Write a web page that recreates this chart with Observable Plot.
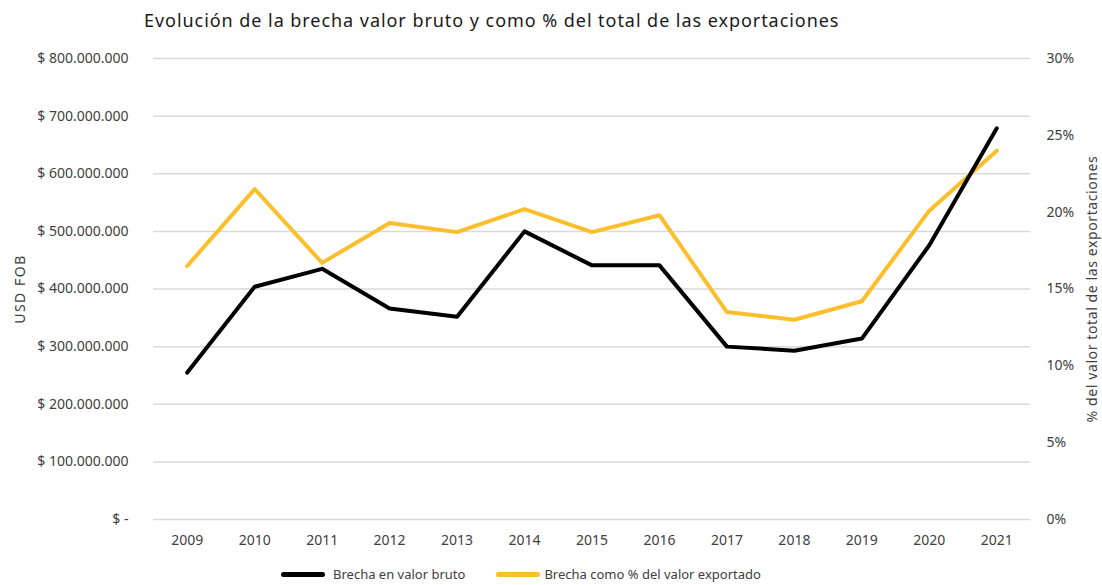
<!DOCTYPE html>
<html>
<head>
<meta charset="utf-8">
<script src="https://cdn.jsdelivr.net/npm/d3@7"></script>
<script src="https://cdn.jsdelivr.net/npm/@observablehq/plot@0.6"></script>
<style>
  body { margin: 0; background: #fff; font-family: "Noto Sans", sans-serif; }
  #title { height: 40px; box-sizing: border-box; padding: 8px 0 0 144px; font-size: 18px; letter-spacing: 0.95px; color: #1a1a1a; }
  #legend { display: flex; justify-content: flex-start; align-items: center; height: 26px; font-size: 13px; color: #404040; padding-left: 281px; padding-top: 4px; box-sizing: border-box; }
  .item { display: flex; align-items: center; }
  .sw { display: inline-block; width: 44px; height: 5px; border-radius: 3px; margin-right: 8px; }
</style>
</head>
<body>
<div id="title">Evolución de la brecha valor bruto y como % del total de las exportaciones</div>
<div id="chart"></div>
<div id="legend"></div>
<script>
const years = ["2009","2010","2011","2012","2013","2014","2015","2016","2017","2018","2019","2020","2021"];
const valorBruto = [255e6, 404e6, 435e6, 366e6, 352e6, 500e6, 441e6, 441e6, 300e6, 293e6, 314e6, 476e6, 679e6];
const pctExportado = [16.5, 21.5, 16.7, 19.3, 18.7, 20.2, 18.7, 19.8, 13.5, 13.0, 14.2, 20.1, 24.0];
const leftTicks = [0, 1e8, 2e8, 3e8, 4e8, 5e8, 6e8, 7e8, 8e8];
const rightTicks = [0, 5, 10, 15, 20, 25, 30];
const seriesNames = ["Brecha en valor bruto", "Brecha como % del valor exportado"];
const seriesColors = ["#000000", "#FCBF2B"];
const leftLabel = "USD FOB";
const rightLabel = "% del valor total de las exportaciones";

const leftMax = 8e8, rightMax = 30;
const toLeft = p => p / rightMax * leftMax;
const fmtMoney = d => d === 0 ? "$ -" : "$ " + d3.format(",")(d).replace(/,/g, ".");

const blackData = years.map((y, i) => ({year: y, v: valorBruto[i]}));
const yellowData = years.map((y, i) => ({year: y, v: toLeft(pctExportado[i])}));

const chart = Plot.plot({
  width: 1102,
  height: 519,
  marginLeft: 153,
  marginRight: 72,
  marginTop: 18,
  marginBottom: 40,
  style: { fontFamily: "'Noto Sans', sans-serif", fontSize: "14px", color: "#404040", background: "#fff" },
  x: { type: "point", domain: years, padding: 0.5, round: false, label: null },
  y: { domain: [0, leftMax], label: null },
  marks: [
    Plot.gridY(leftTicks, { stroke: "#d9d9d9", strokeOpacity: 1, strokeWidth: 1.5 }),
    Plot.axisY(leftTicks, { anchor: "left", tickSize: 0, tickPadding: 25, tickFormat: fmtMoney, label: null }),
    Plot.axisY(rightTicks.map(toLeft), { anchor: "right", tickSize: 0, tickPadding: 16, textAnchor: "start",
      tickFormat: d => Math.round(d / leftMax * rightMax) + "%", label: null }),
    Plot.axisX({ tickSize: 0, tickPadding: 16, label: null }),
    Plot.text([leftLabel], { frameAnchor: "left", textAnchor: "middle", dx: -133, rotate: -90, fontSize: 14, fill: "#404040" }),
    Plot.text([rightLabel], { frameAnchor: "right", textAnchor: "middle", dx: 62, rotate: -90, fontSize: 14, fill: "#404040" }),
    Plot.line(yellowData, { x: "year", y: "v", stroke: seriesColors[1], strokeWidth: 4 }),
    Plot.line(blackData, { x: "year", y: "v", stroke: seriesColors[0], strokeWidth: 4 })
  ]
});
document.getElementById("chart").appendChild(chart);
chart.querySelectorAll("text").forEach(t => {
  if (t.textContent === rightLabel) t.style.letterSpacing = "0.6px";
  if (t.textContent === leftLabel) t.style.letterSpacing = "1.5px";
});

const legend = document.getElementById("legend");
seriesNames.forEach((n, i) => {
  const it = document.createElement("div");
  it.className = "item";
  it.style.marginRight = i === 0 ? "31px" : "0";
  const sw = document.createElement("span");
  sw.className = "sw";
  sw.style.background = seriesColors[i];
  sw.style.marginRight = i === 0 ? "8px" : "4px";
  it.appendChild(sw);
  it.appendChild(document.createTextNode(n));
  legend.appendChild(it);
});
</script>
</body>
</html>
